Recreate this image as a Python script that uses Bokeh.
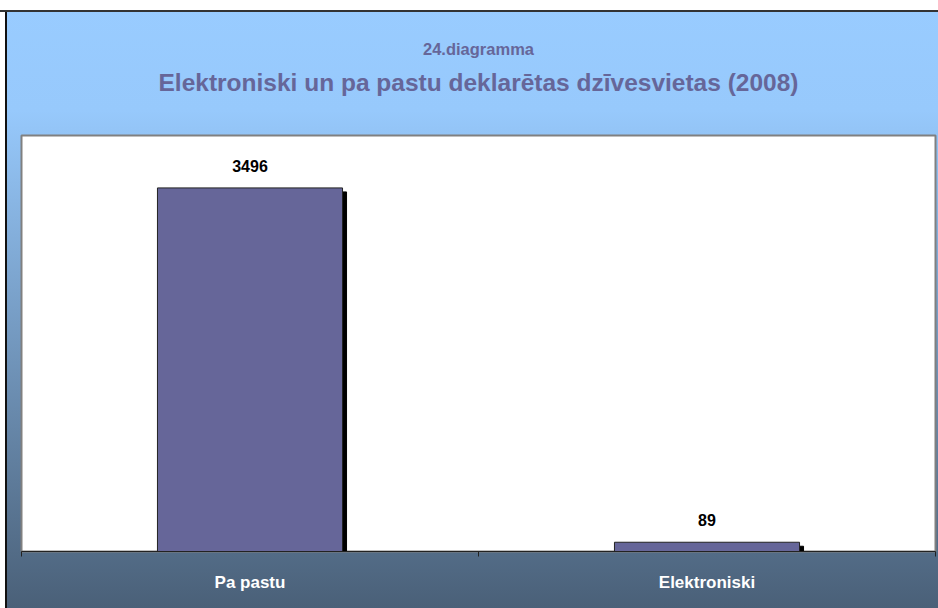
from bokeh.plotting import figure
from bokeh.models import LabelSet, FixedTicker, ColumnDataSource, Range1d, Title
from bokeh.transform import dodge
from bokeh.core.properties import value
from bokeh.embed import file_html
from bokeh.resources import INLINE

chart_number = "24.diagramma"
chart_title = "Elektroniski un pa pastu deklarētas dzīvesvietas (2008)"
categories = ["Pa pastu", "Elektroniski"]
values = [3496, 89]
y_max = 4000

FONT = "Liberation Sans"
TITLE_COLOR = "#666699"

W, H = 938, 608
ML, MR, MT, MB = 21, 3, 135, 57
FW, FH = W - ML - MR, H - MT - MB

p = figure(width=W, height=H, output_backend="svg", toolbar_location=None,
           x_range=Range1d(0, len(categories)), y_range=Range1d(0, y_max),
           min_border_left=ML, min_border_right=MR, min_border_top=MT, min_border_bottom=MB)
p.border_fill_color = None
p.border_fill_alpha = 0
p.background_fill_color = "white"
p.outline_line_color = "#808080"
p.outline_line_width = 2
p.grid.visible = False
p.yaxis.visible = False
p.styles = {
    "background-image": (
        "linear-gradient(to bottom, #ffffff 0px, #ffffff 10px, #333333 10px, #333333 12px, transparent 12px), "
        "linear-gradient(to right, #ffffff 0px, #ffffff 5px, #111111 5px, #111111 7px, transparent 7px), "
        "linear-gradient(to bottom, #99CCFF 0px, #97C9FC 110px, #4A6078 100%)"
    )
}

xs = [i + 0.5 for i in range(len(categories))]
source = ColumnDataSource(dict(x=xs, top=values, label=[str(v) for v in values]))

bar_w = 0.405
px_x = FW / len(categories)
px_y = FH / y_max
p.vbar(x=dodge("x", 4 / px_x), top=dodge("top", -4 / px_y), width=bar_w, bottom=0,
       source=source, fill_color="black", line_color="black")
p.vbar(x="x", top="top", width=bar_w, bottom=0, source=source,
       fill_color="#666699", line_color="#222222", line_width=1)

p.add_layout(LabelSet(x="x", y="top", text="label", source=source, y_offset=22,
                      text_align="center", text_baseline="middle",
                      text_font=value(FONT), text_font_style="bold",
                      text_font_size="16px", text_color="black"))

ax = p.xaxis[0]
ax.ticker = FixedTicker(ticks=xs, minor_ticks=[float(i) for i in range(len(categories) + 1)])
ax.major_label_overrides = {x: c for x, c in zip(xs, categories)}
ax.major_tick_in = 0
ax.major_tick_out = 0
ax.minor_tick_in = 0
ax.minor_tick_out = 5
ax.minor_tick_line_color = "#222222"
ax.axis_line_color = "#222222"
ax.major_label_text_color = "white"
ax.major_label_text_font = FONT
ax.major_label_text_font_style = "bold"
ax.major_label_text_font_size = "17px"
ax.major_label_standoff = 16

# titles: p.title is the outermost line; the first added title sits next to the plot area
p.title.text = chart_number
p.title.align = "center"
p.title.text_color = TITLE_COLOR
p.title.text_font = FONT
p.title.text_font_style = "bold"
p.title.text_font_size = "16.5px"
p.title.standoff = 13
# empty spacer line between the title and the plot area
p.add_layout(Title(text=" ", align="center", text_font_size="2px", standoff=34), "above")
p.add_layout(Title(text=chart_title, align="center", text_color=TITLE_COLOR,
                   text_font=FONT, text_font_style="bold", text_font_size="24.5px",
                   standoff=4), "above")

open("out.html", "w").write(file_html(p, INLINE))
